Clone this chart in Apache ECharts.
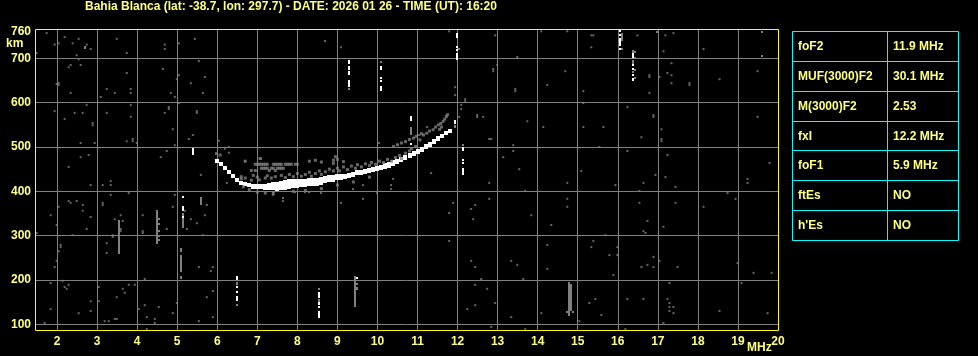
<!DOCTYPE html>
<html><head><meta charset="utf-8">
<script src="https://cdn.jsdelivr.net/npm/echarts@6/dist/echarts.min.js"></script>
<style>html,body{margin:0;padding:0;background:#000;}#c{width:978px;height:356px;}</style>
</head><body><div id="c"></div>
<script>
const titleText = 'Bahia Blanca (lat: -38.7, lon: 297.7) - DATE: 2026 01 26 - TIME (UT): 16:20';
const xLabelValues = [2,3,4,5,6,7,8,9,10,11,12,13,14,15,16,17,18,19,20];
const xGridValues = [2,3,4,5,6,7,8,9,10,11,12,13,14,15,16,17,18,19];
const yLabelValues = [100,200,300,400,500,600,700,760];
const yGridValues = [100,200,300,400,500,600,700];
const tableLabels = ['foF2','MUF(3000)F2','M(3000)F2','fxI','foF1','ftEs',"h'Es"];
const tableValues = ['11.9 MHz','30.1 MHz','2.53','12.2 MHz','5.9 MHz','NO','NO'];

// main white O-trace: [freq MHz, low km, high km]
const traceWhite = [
[6.0,466,474],[6.1,457,466],[6.2,447,457],[6.3,437,447],[6.4,428,438],[6.5,420,430],[6.6,415,424],[6.7,411,420],
[6.8,408,418],[6.9,406,417],[7.0,405,416],[7.1,404,416],[7.2,403,417],[7.3,403,418],[7.4,402,420],[7.5,402,422],
[7.6,403,424],[7.7,404,426],[7.8,405,427],[7.9,406,427],[8.0,408,428],[8.1,409,428],[8.2,410,428],[8.3,411,429],
[8.4,412,430],[8.5,414,431],[8.6,416,433],[8.7,418,434],[8.8,420,436],[8.9,422,437],[9.0,424,438],[9.1,426,439],
[9.2,428,440],[9.3,430,442],[9.4,432,444],[9.5,435,447],[9.6,437,449],[9.7,439,451],[9.8,441,453],[9.9,443,455],
[10.0,445,457],[10.1,448,460],[10.2,451,464],[10.3,454,467],[10.4,457,470],[10.5,461,473],[10.6,465,477],[10.7,469,481],
[10.8,474,486],[10.9,479,490],[11.0,484,495],[11.1,489,500],[11.2,495,506],[11.3,501,512],[11.4,507,518],[11.5,513,524],
[11.6,519,529],[11.7,525,535],[11.8,531,541]
];

// grey echoes around the trace: [freq, km]
const echoGrey = [
[6.95,461],[7.0,461],[7.05,461],[7.1,461],[7.15,461],[7.2,461],[7.25,461],[7.4,461],[7.45,461],[7.5,461],[7.55,461],[7.6,461],
[7.7,461],[7.75,461],[7.8,461],[7.85,461],[7.95,461],[8.0,461],
[7.1,452],[7.15,452],[7.2,452],[7.25,452],[7.35,452],[7.4,452],[7.5,452],[7.55,452],[7.6,452],[7.65,452],
[6.85,447],[6.95,447],[7.3,447],[7.45,447],
[6.7,468],[7.07,474],[8.3,468],[8.45,470],[8.6,466],[8.9,463],[8.9,470],[8.95,478],[9.0,472],[9.15,467],
[6.6,428],[6.6,433],[6.7,430],[6.85,425],[6.9,436],[7.0,432],[7.05,426],[7.2,430],[7.25,435],[7.35,430],[7.45,433],
[7.6,436],[7.7,431],[7.8,438],[7.9,433],[8.0,440],[8.1,434],[8.2,438],[8.3,443],[8.35,434],[8.45,440],[8.55,446],
[8.6,438],[8.7,444],[8.8,450],[8.9,446],[9.0,452],[9.05,446],[9.15,455],[9.25,449],[9.35,457],[9.45,452],[9.5,460],
[9.6,455],[9.7,462],[9.8,458],[9.85,465],[9.95,461],[10.05,468],[10.15,465],[10.25,472],[10.35,468],[10.45,476],
[10.55,481],[10.6,474],[10.7,486],[10.8,491],[10.85,496],[10.95,501],
[6.65,410],[6.8,404],[7.0,398],[7.2,396],[7.4,395],[7.9,400],[8.2,402],[8.6,406],[9.0,414],[9.4,421],[9.8,432],
[10.4,501],[10.5,505],[10.6,509],[10.7,512],[10.8,517],[10.9,520],[10.97,524],[11.06,516],[11.1,530],[11.15,527],
[11.23,531],[11.3,536],[11.39,539],[11.45,545],[11.52,550],[11.58,553],[11.64,558],[11.68,563],[11.72,569],[11.75,573],
[11.55,540],[11.6,545],[5.98,485],[6.07,482]
];

// vertical streaks: [freq, low km, high km]
const streakWhite = [
[5.39,482,497],
[9.28,687,697],[9.28,674,682],[9.28,663,672],[9.28,637,652],
[10.09,674,682],[10.09,655,659],[10.09,648,652],[10.09,625,637],
[10.83,558,569],[10.83,505,509],
[11.98,746,757],[11.98,725,729],[11.98,718,722],[11.98,697,712],
[12.14,490,499],[12.14,470,474],[12.14,462,467],[12.14,437,452],
[16.06,759,764],[16.06,750,755],[16.06,729,746],[16.06,719,723],
[16.39,701,712],[16.39,683,687],[16.39,674,678],[16.39,660,664],[16.39,648,655],
[5.14,385,389],[5.14,355,367],[5.14,340,344],
[6.49,200,208],[6.49,182,186],[6.49,172,176],[6.49,152,163],
[8.54,159,173],[8.54,144,150],[8.54,137,141],[8.54,114,129],
[9.49,203,206],[11.94,550,560]
];
const streakGrey = [
[9.28,629,633],[10.09,689,693],[10.83,528,546],[12.03,719,723],[12.14,503,506],
[16.11,739,757],[16.11,719,723],[16.39,712,719],[16.39,689,697],[16.39,667,671],
[16.44,716,716],[16.44,703,703],[16.44,676,676],[16.44,658,658],
[3.54,258,335],[4.49,281,358],[4.54,340,340],[4.54,329,329],[4.54,313,313],[4.54,302,302],[4.54,292,292],
[5.14,317,340],[5.14,345,352],[5.09,264,272],[5.09,219,257],[5.09,201,208],[5.59,370,387],
[6.49,190,196],[6.49,142,146],[8.54,177,182],[8.54,152,158],
[9.44,137,208],[9.49,193,193],[9.49,178,185],
[14.79,119,195],[14.84,130,190],[14.74,130,130],[14.89,130,130],
[11.94,543,549],[2.69,723,729],[16.99,757,761],[19.59,757,761],[19.59,703,707]
];

// scattered noise dots: [freq, km]
const noise = [
[1.74,757],[2.19,748],[2.54,744],[1.94,731],[2.04,734],[2.39,734],[2.74,731],[2.84,721],[3.49,744],[3.74,712],
[4.69,731],[4.69,721],[5.04,734],[5.44,744],[1.49,712],[2.49,707],[2.54,698],[2.34,685],[2.29,680],[2.59,685],
[3.74,667],[4.64,676],[5.54,694],[5.04,662],[4.99,653],[5.69,658],[5.34,644],[1.99,642],[2.04,640],[2.04,644],
[3.24,631],[3.84,631],[3.84,622],[3.44,622],[2.34,622],[3.09,613],[4.84,622],[4.94,613],[5.64,622],[5.04,599],
[2.74,595],[3.84,595],[4.79,590],[4.79,586],[5.49,581],[5.49,577],[1.94,581],[2.44,577],[2.64,577],[3.24,577],
[4.69,577],[2.19,563],[3.84,568],[2.89,554],[2.89,549],[4.89,540],[5.39,527],[5.29,518],[2.59,509],[2.94,509],
[3.74,513],[3.89,518],[3.89,513],[3.99,509],[4.94,504],[6.04,514],[6.19,496],[6.29,500],[6.29,487],[4.74,491],
[4.59,477],[2.59,477],[2.79,482],[2.29,455],[5.59,437],[6.69,468],[7.09,473],
[8.69,739],[9.09,725],[11.79,761],[12.94,752],[13.49,703],[12.99,685],[12.89,676],[12.89,671],[13.44,631],[13.44,626],
[11.94,635],[11.94,617],[12.19,608],[12.19,603],[12.09,595],[12.09,586],[12.49,572],[12.49,568],[12.64,568],[13.74,558],
[12.04,568],[12.79,518],[12.84,518],[13.39,504],[13.39,491],[13.14,477],[13.54,450],[11.34,441],[11.24,545],[11.04,527],
[10.04,509],
[14.09,761],[14.74,761],[15.34,752],[15.39,752],[15.34,725],[16.49,752],[17.19,752],[17.39,757],[18.14,721],[17.14,716],
[17.34,689],[17.24,667],[17.34,662],[17.04,658],[16.79,662],[16.79,658],[17.34,644],[17.79,644],[17.79,640],[18.54,653],
[19.49,671],[14.69,671],[14.24,640],[15.14,626],[15.14,599],[16.79,622],[16.24,590],[16.89,572],[16.89,568],[19.49,568],
[14.14,545],[15.14,545],[15.64,545],[17.09,540],[17.09,518],[17.09,513],[16.59,522],[15.54,500],[16.24,491],[17.24,482],
[19.79,464],[15.09,446],[16.94,437],[17.19,432],[19.24,428],
[2.84,414],[3.14,414],[3.34,423],[3.34,414],[3.79,396],[3.34,392],[2.29,378],[2.34,374],[2.49,378],[2.64,369],
[2.64,356],[2.04,365],[3.14,374],[3.14,369],[1.84,346],[2.84,342],[2.74,315],[1.99,324],[1.49,306],[2.39,301],
[2.09,279],[2.09,274],[2.04,265],[1.99,243],[1.94,229],[1.84,193],[2.14,198],[2.19,184],[2.24,180],[2.29,189],
[1.84,134],[2.54,125],[2.84,152],[2.84,130],[1.69,103],[3.04,184],[3.04,152],[3.24,283],[3.24,261],[3.39,301],
[3.39,297],[3.44,337],[3.59,346],[3.64,333],[3.59,315],[3.59,310],[3.79,189],[3.94,189],[3.64,180],[3.69,171],
[3.49,161],[3.19,107],[3.29,107],[3.44,112],[3.49,112],[4.14,346],[4.14,310],[4.14,306],[4.19,202],[4.04,134],
[4.19,143],[4.24,116],[4.44,112],[4.44,103],[4.54,139],[4.24,89],[4.89,125],[4.99,148],[4.74,315],[4.89,365],
[4.94,392],[5.19,356],[5.24,315],[5.34,337],[5.49,328],[5.74,369],[5.69,346],[5.64,301],[5.54,229],[5.84,220],
[5.89,229],[5.89,175],[5.74,161],[5.54,107],[5.89,116],[6.24,419],[7.39,398],[7.39,392],[7.64,385],[7.64,378],
[9.64,414],[9.39,405],[9.09,374],[9.64,383],[9.99,396],[10.34,414],[10.34,405],[10.39,428],[7.94,398],
[8.19,398],[8.29,398],[8.59,396],[12.79,419],[12.79,383],[13.69,401],[11.89,374],[12.44,369],[12.34,360],[11.79,351],
[12.39,337],[13.84,346],[11.79,288],[12.34,243],[12.44,229],[13.34,243],[13.49,234],[12.59,202],[13.64,202],[12.44,189],
[12.74,180],[12.94,148],[12.44,143],[12.24,134],[13.34,116],[12.84,94],[13.69,89],
[14.74,419],[15.94,414],[16.64,419],[17.44,410],[19.24,419],[16.54,401],[14.74,383],[14.74,365],[16.54,374],[17.44,374],
[18.74,396],[18.94,383],[18.14,365],[16.74,333],[16.64,310],[16.69,306],[17.14,320],[15.69,301],[15.39,288],[15.34,274],
[15.99,274],[15.99,256],[15.79,256],[14.24,279],[14.24,225],[15.89,211],[16.89,252],[17.04,243],[16.59,229],[16.74,234],
[16.89,229],[17.49,229],[18.99,238],[19.39,216],[19.84,216],[19.09,193],[17.29,193],[15.44,157],[15.29,148],[16.24,157],
[16.64,157],[17.24,157],[17.29,148],[17.29,139],[17.39,139],[17.29,130],[17.39,125],[18.54,130],[19.74,125],[14.09,125],
[15.59,121],[15.04,107],[17.14,103],[16.19,89],[14.34,324]
];

const GREY = '#808080', WHITE = '#ffffff', YEL = '#ffff00', TXT = '#ffff80', CYAN = '#00ffff';
const TFONT = 'bold 12px "Liberation Sans", Arial, sans-serif';

function segRender(widthPx, color) {
  return function (params, api) {
    const f = api.value(0), lo = api.value(1), hi = api.value(2);
    const top = api.coord([f, hi]);
    const bot = api.coord([f, lo]);
    const h = Math.max(2, bot[1] - top[1]);
    return { type: 'rect', shape: { x: Math.round(top[0] - widthPx / 2), y: Math.round(top[1]), width: widthPx, height: Math.round(h) }, style: { fill: color } };
  };
}

// table graphics (absolute positions)
const T = { x: 792, y: 31, w: 166, rowH: 29.86, col: 887 };
const graphics = [];
graphics.push({ type: 'rect', z: 100, shape: { x: 35.5, y: 29.5, width: 743, height: 301 }, style: { fill: null, stroke: YEL, lineWidth: 1 } });
graphics.push({ type: 'text', x: 6, y: 38, style: { text: 'km', fill: TXT, font: TFONT } });
graphics.push({ type: 'text', x: 747, y: 342, style: { text: 'MHz', fill: TXT, font: TFONT } });
graphics.push({ type: 'rect', shape: { x: T.x + 0.5, y: T.y + 0.5, width: T.w, height: Math.round(T.rowH * tableLabels.length) }, style: { fill: null, stroke: CYAN, lineWidth: 1 } });
graphics.push({ type: 'line', shape: { x1: T.col + 0.5, y1: T.y, x2: T.col + 0.5, y2: T.y + Math.round(T.rowH * tableLabels.length) }, style: { stroke: CYAN, lineWidth: 1 } });
tableLabels.forEach((lab, i) => {
  if (i > 0) {
    const yy = Math.round(T.y + T.rowH * i) + 0.5;
    graphics.push({ type: 'line', shape: { x1: T.x, y1: yy, x2: T.x + T.w, y2: yy }, style: { stroke: CYAN, lineWidth: 1 } });
  }
  const cy = Math.round(T.y + T.rowH * i + T.rowH / 2 + 1);
  graphics.push({ type: 'text', x: T.x + 6, y: cy, style: { text: lab, fill: TXT, font: TFONT, verticalAlign: 'middle', textVerticalAlign: 'middle' } });
  graphics.push({ type: 'text', x: T.col + 6, y: cy, style: { text: tableValues[i], fill: TXT, font: TFONT, verticalAlign: 'middle', textVerticalAlign: 'middle' } });
});

const chart = echarts.init(document.getElementById('c'), null, { renderer: 'canvas' });
const FONT = { fontFamily: '"Liberation Sans", Arial, sans-serif', fontWeight: 'bold', fontSize: 12, color: TXT };
chart.setOption({
  backgroundColor: '#000',
  animation: false,
  title: { text: titleText, left: 85, top: 0, padding: 0, textStyle: { color: TXT, fontSize: 12, fontWeight: 'bold', fontFamily: '"Liberation Sans", Arial, sans-serif', lineHeight: 14 } },
  grid: { left: 35, top: 30, width: 743, height: 300, show: true, backgroundColor: '#000', borderWidth: 0, containLabel: false },
  xAxis: {
    type: 'value', min: 1.45, max: 20,
    axisLine: { show: false },
    axisTick: { show: false, customValues: xGridValues },
    axisLabel: { customValues: xLabelValues, margin: 6, ...FONT },
    splitLine: { show: true, lineStyle: { color: GREY, width: 1 } }
  },
  yAxis: {
    type: 'value', min: 87, max: 764,
    axisLine: { show: false },
    axisTick: { show: false, customValues: yGridValues },
    axisLabel: { customValues: yLabelValues, margin: 4, ...FONT },
    splitLine: { show: true, lineStyle: { color: GREY, width: 1 } }
  },
  graphic: graphics,
  series: [
    { type: 'scatter', data: noise, symbol: 'rect', symbolSize: 2, itemStyle: { color: GREY }, silent: true },
    { type: 'scatter', data: echoGrey, symbol: 'rect', symbolSize: [3, 3], itemStyle: { color: GREY }, silent: true },
    { type: 'custom', data: streakGrey, encode: { x: 0, y: [1, 2] }, renderItem: segRender(2, GREY), silent: true },
    { type: 'custom', data: traceWhite, encode: { x: 0, y: [1, 2] }, renderItem: segRender(4, WHITE), silent: true },
    { type: 'custom', data: streakWhite, encode: { x: 0, y: [1, 2] }, renderItem: segRender(2, WHITE), silent: true }
  ]
});
</script></body></html>
